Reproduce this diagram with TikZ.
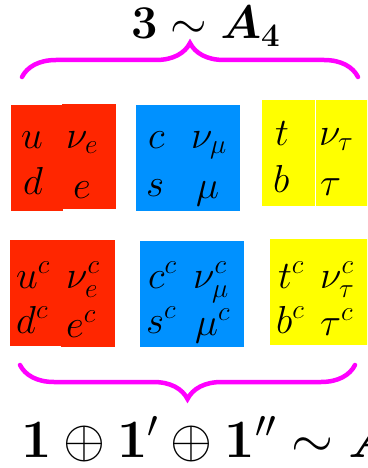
\RequirePackage{fix-cm}
\documentclass[tikz,border=0pt]{standalone}
\usepackage{bm}
\usetikzlibrary{decorations.pathreplacing}
\definecolor{qred}{RGB}{255,38,0}
\definecolor{qblue}{RGB}{0,145,255}
\definecolor{qyel}{RGB}{255,255,0}
\definecolor{qmag}{RGB}{255,0,255}
\begin{document}
\begin{tikzpicture}[x=1pt,y=-1pt,
  ent/.style={anchor=base west,inner sep=0pt,font=\fontsize{39}{46}\selectfont},
  lab/.style={anchor=base west,inner sep=0pt},
  bracestyle/.style={draw=qmag,line width=4.5pt,line cap=round,decorate,decoration={brace,amplitude=34pt}},
  redbox/.style={fill=qred},
  bluebox/.style={fill=qblue},
  yelbox/.style={fill=qyel}]
\useasboundingbox (0,0) rectangle (367,468);
\clip (0,0) rectangle (367,468);
\fill[white] (0,0) rectangle (367,468);
% top label and brace
\node[lab,font=\fontsize{47}{52}\selectfont] (toplab) at (131,39) {$\mathbf{3}\sim\bm{A}_{\mathbf{4}}$};
\coordinate (tb1) at (22,77);
\coordinate (tb2) at (358,77);
\draw[bracestyle] (tb1) -- (tb2);
% top boxes
\path[redbox] (11,105) rectangle (63,211);
\path[redbox] (62,104) rectangle (116,209);
\path[bluebox] (136,105) rectangle (240,211);
\path[yelbox] (262,100) rectangle (314.5,206);
\path[yelbox] (316,100) rectangle (372,206);
\node[ent] (u) at (21,148) {$u$};
\node[ent] (nue) at (66,148) {$\nu_e$};
\node[ent] (d) at (23,194) {$d$};
\node[ent] (e) at (73,198) {$e$};
\node[ent] (c) at (148,148) {$c$};
\node[ent] (numu) at (191,148) {$\nu_\mu$};
\node[ent] (s) at (146,196) {$s$};
\node[ent] (mu) at (196,198) {$\mu$};
\node[ent] (t) at (275,145) {$t$};
\node[ent] (nutau) at (319,145) {$\nu_\tau$};
\node[ent] (b) at (273,192) {$b$};
\node[ent] (tau) at (320,195) {$\tau$};
% bottom boxes
\path[redbox] (10,240) rectangle (62,346);
\path[redbox] (61,240) rectangle (115,347);
\path[bluebox] (140,241) rectangle (244,347);
\path[yelbox] (270,239) rectangle (372,345);
\node[ent] (uc) at (16,288) {$u^c$};
\node[ent] (nuec) at (66,288) {$\nu_e^c$};
\node[ent] (dc) at (16,333) {$d^c$};
\node[ent] (ec) at (66,337) {$e^c$};
\node[ent] (cc) at (148,288) {$c^c$};
\node[ent] (numuc) at (193,288) {$\nu_\mu^c$};
\node[ent] (sc) at (146,333) {$s^c$};
\node[ent] (muc) at (195,335) {$\mu^c$};
\node[ent] (tc) at (278,288) {$t^c$};
\node[ent] (nutauc) at (320,288) {$\nu_\tau^c$};
\node[ent] (bc) at (276,333) {$b^c$};
\node[ent] (tauc) at (320,335) {$\tau^c$};
% bottom brace and label
\coordinate (bb1) at (20,365);
\coordinate (bb2) at (355,365);
\draw[bracestyle,decoration={mirror}] (bb1) -- (bb2);
\node[lab,font=\fontsize{54}{60}\selectfont] (botlab) at (21,457) {$\mathbf{1}\oplus\mathbf{1}'\oplus\mathbf{1}''\sim\bm{A}_{\mathbf{4}}$};
\end{tikzpicture}
\end{document}
